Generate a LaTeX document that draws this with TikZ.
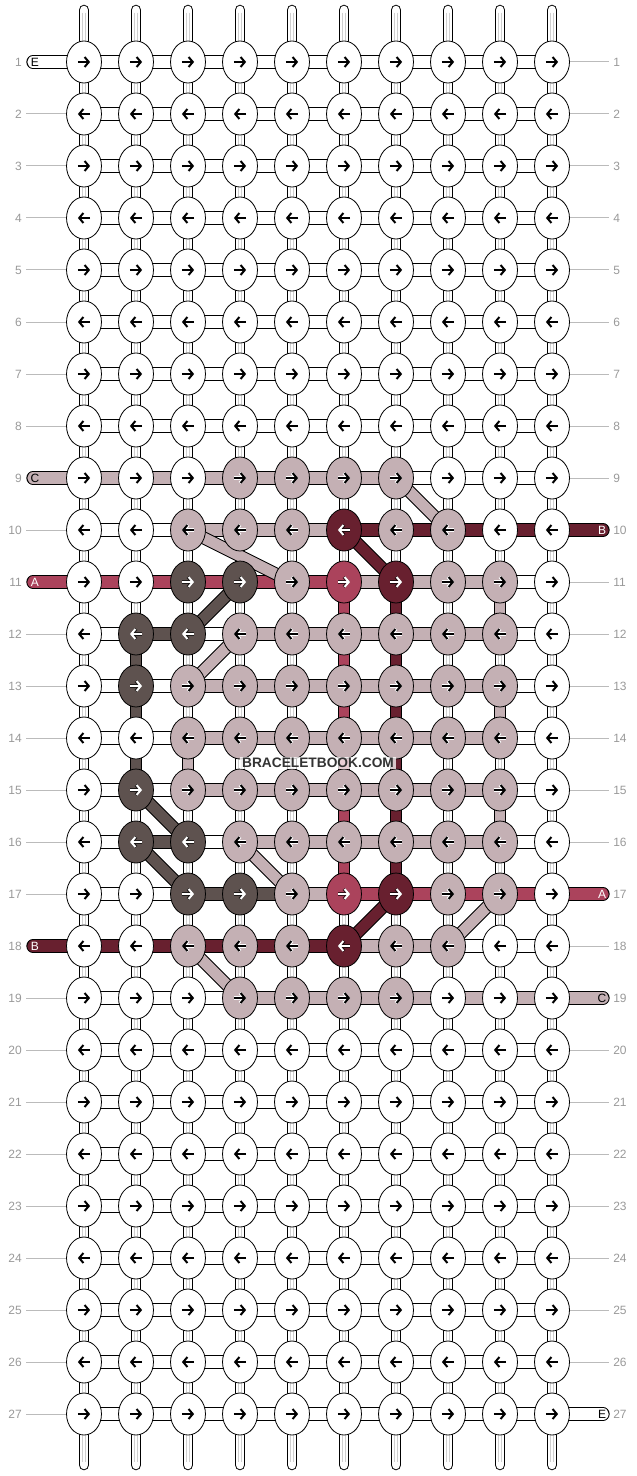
\documentclass[tikz,border=0pt]{standalone}
\usepackage{fontspec}
\setmainfont{Liberation Sans}
\usetikzlibrary{arrows.meta,shapes.geometric}
\definecolor{kW}{HTML}{FFFFFF}
\definecolor{kC}{HTML}{C4B0B4}
\definecolor{kD}{HTML}{5E524F}
\definecolor{kB}{HTML}{68202F}
\definecolor{kA}{HTML}{AB435C}
\colorlet{aW}{black}
\colorlet{aC}{black}
\colorlet{aD}{white}
\colorlet{aB}{white}
\colorlet{aA}{white}
\colorlet{oW}{white}
\colorlet{oC}{white}
\colorlet{oD}{black!70!kD}
\colorlet{oB}{black!70!kB}
\colorlet{oA}{black!70!kA}
\definecolor{lbl}{HTML}{999999}
\definecolor{lin}{HTML}{BBBBBB}
\definecolor{inner}{HTML}{CFCFCF}
\definecolor{wm}{HTML}{333333}
\newlength\barout \newlength\barin
% bar between two named points: [options] colour, from, to
\newcommand\tbar[4][]{\draw[#1,line width=\barout,draw=black] (#3) -- (#4);\draw[#1,line width=\barin,draw=k#2] (#3) -- (#4);}
\newcommand\hseg[3][]{\setlength\barout{10pt}\setlength\barin{8.5pt}\tbar[#1]{#2}{#3}}
\newcommand\hrow[2]{\foreach \s [count=\c] in {#2} {\pgfmathtruncatemacro\cn{\c+1}\setlength\barout{10pt}\setlength\barin{8.5pt}\tbar{\s}{p#1-\c}{p#1-\cn}}}
\newcommand\vseg[3]{\setlength\barout{8.9pt}\setlength\barin{7.4pt}\tbar{#1}{#2}{#3}}
\newcommand\dseg[3]{\setlength\barout{9.6pt}\setlength\barin{8.1pt}\tbar{#1}{#2}{#3}}
\newcommand\krow[2]{\foreach \k [count=\c] in {#2} {%
  \node[knot,fill=k\k] (n#1-\c) at (p#1-\c) {};
  \ifodd#1\relax
    \coordinate (as) at ([xshift=-4.6pt]p#1-\c); \coordinate (ae) at ([xshift=4.6pt]p#1-\c);
  \else
    \coordinate (as) at ([xshift=4.6pt]p#1-\c); \coordinate (ae) at ([xshift=-4.6pt]p#1-\c);
  \fi
  \draw[arrout,draw=o\k] (as) -- (ae);
  \draw[arr,draw=a\k] (as) -- (ae);}}
\begin{document}
\begin{tikzpicture}[x=0.75pt,y=-0.75pt,
  knot/.style={ellipse,draw=black,line width=0.6pt,minimum width=26.2pt,minimum height=31.5pt,inner sep=0pt},
  innerline/.style={draw=inner,line width=0.45pt},
  arr/.style={line width=1.5pt,-{Straight Barb[length=3.2pt,width=7.5pt]}},
  arrout/.style={line width=2.3pt,-{Straight Barb[length=3.2pt,width=7.5pt]}},
  num/.style={text=lbl,font=\fontsize{9}{10}\selectfont,inner sep=0pt},
  letter/.style={font=\fontsize{9}{10}\selectfont,inner sep=0pt},
  rowline/.style={draw=lin,line width=0.75pt}]
\useasboundingbox (0,0) rectangle (636,1476);
% grid coordinates
\foreach \r in {1,...,27}{\foreach \c in {1,...,10}{\coordinate (p\r-\c) at ({84+52*(\c-1)},{62+52*(\r-1)});}}
% vertical strands
\foreach \c in {1,...,10}{
  \coordinate (top\c) at ({84+52*(\c-1)},10);
  \coordinate (bot\c) at ({84+52*(\c-1)},1465);
  \draw[line width=7.9pt,line cap=round,draw=black] (top\c) -- (bot\c);
  \draw[line width=6.4pt,line cap=round,draw=white] (top\c) -- (bot\c);
  \draw[innerline] ([xshift=-1pt,yshift=-2pt]top\c) -- ([xshift=-1pt,yshift=2pt]bot\c);
  \draw[innerline] ([xshift=1pt,yshift=-2pt]top\c) -- ([xshift=1pt,yshift=2pt]bot\c);
}
% thread ends
\coordinate (L1) at (33,62);   \hseg[line cap=round]{W}{L1}{p1-1}
\coordinate (L9) at (33,478);  \hseg[line cap=round]{C}{L9}{p9-1}
\coordinate (L11) at (33,582); \hseg[line cap=round]{A}{L11}{p11-1}
\coordinate (L18) at (33,946); \hseg[line cap=round]{B}{L18}{p18-1}
\coordinate (R10) at (603,530);  \hseg[line cap=round]{B}{p10-10}{R10}
\coordinate (R17) at (603,894);  \hseg[line cap=round]{A}{p17-10}{R17}
\coordinate (R19) at (603,998);  \hseg[line cap=round]{C}{p19-10}{R19}
\coordinate (R27) at (603,1414); \hseg[line cap=round]{W}{p27-10}{R27}
% horizontal segments
\foreach \r in {1,...,8,20,21,...,27}{\hrow{\r}{W,W,W,W,W,W,W,W,W}}
\hrow{9}{C,C,C,C,C,C,W,W,W}
\hrow{10}{W,W,C,C,C,B,B,B,B}
\hrow{11}{A,A,A,A,A,C,C,C,W}
\hrow{12}{W,D,W,C,C,C,C,C,W}
\hrow{13}{W,W,C,C,C,C,C,C,W}
\hrow{14}{W,W,C,C,C,C,C,C,W}
\hrow{15}{W,W,C,C,C,C,C,C,W}
\hrow{16}{W,D,W,C,C,C,C,C,W}
\hrow{17}{W,W,D,D,C,A,A,A,A}
\hrow{18}{B,B,B,B,B,C,C,W,W}
\hrow{19}{W,W,W,C,C,C,C,C,C}
% coloured vertical segments
\foreach \r/\rn in {12/13,13/14,14/15}{\vseg{D}{p\r-2}{p\rn-2}}
\vseg{C}{p14-3}{p15-3}
\foreach \r/\rn in {11/12,12/13,13/14,14/15,15/16,16/17}{
  \vseg{A}{p\r-6}{p\rn-6}
  \vseg{B}{p\r-7}{p\rn-7}}
\foreach \r/\rn in {11/12,13/14,15/16}{\vseg{C}{p\r-9}{p\rn-9}}
% diagonals
\dseg{C}{p9-7}{p10-8}
\dseg{C}{p10-3}{p11-5}
\dseg{B}{p10-6}{p11-7}
\dseg{D}{p11-4}{p12-3}
\dseg{C}{p12-4}{p13-3}
\dseg{D}{p15-2}{p16-3}
\dseg{D}{p16-2}{p17-3}
\dseg{C}{p16-4}{p17-5}
\dseg{B}{p17-7}{p18-6}
\dseg{C}{p17-9}{p18-8}
\dseg{C}{p18-3}{p19-4}
% knots
\foreach \r in {1,...,8,20,21,...,27}{\krow{\r}{W,W,W,W,W,W,W,W,W,W}}
\krow{9}{W,W,W,C,C,C,C,W,W,W}
\krow{10}{W,W,C,C,C,B,C,C,W,W}
\krow{11}{W,W,D,D,C,A,B,C,C,W}
\krow{12}{W,D,D,C,C,C,C,C,C,W}
\krow{13}{W,D,C,C,C,C,C,C,C,W}
\krow{14}{W,W,C,C,C,C,C,C,C,W}
\krow{15}{W,D,C,C,C,C,C,C,C,W}
\krow{16}{W,D,D,C,C,C,C,C,C,W}
\krow{17}{W,W,D,D,C,A,B,C,C,W}
\krow{18}{W,W,C,C,C,B,C,C,W,W}
\krow{19}{W,W,W,C,C,C,C,W,W,W}
% row numbers and guide lines
\foreach \r in {1,...,27}{
  \node[num,anchor=east] (ln\r) at (22,{62+52*(\r-1)}) {\r};
  \node[num,anchor=west] (rn\r) at (613,{62+52*(\r-1)}) {\r};}
\foreach \r in {2,...,8,10,12,13,14,15,16,17,19,20,21,...,27}{
  \coordinate (gl\r) at (26,{62+52*(\r-1)});
  \draw[rowline] (gl\r) -- (n\r-1.west);}
\foreach \r in {1,...,9,11,12,13,14,15,16,18,20,21,...,26}{
  \coordinate (gr\r) at (609,{62+52*(\r-1)});
  \draw[rowline] (n\r-10.east) -- (gr\r);}
% thread letters
\node[letter,text=black] at (35,62) {E};
\node[letter,text=black] at (35,478) {C};
\node[letter,text=white] at (35,582) {A};
\node[letter,text=white] at (35,946) {B};
\node[letter,text=white] at (602,530) {B};
\node[letter,text=white] at (602,894) {A};
\node[letter,text=black] at (602,998) {C};
\node[letter,text=black] at (602,1414) {E};
% watermark
\node[fill=white,fill opacity=0.75,text opacity=1,text=wm,inner sep=1.2pt,font=\bfseries\fontsize{10.3}{11}\selectfont] (wmk) at (318,763) {BRACELETBOOK.COM};
\end{tikzpicture}
\end{document}
